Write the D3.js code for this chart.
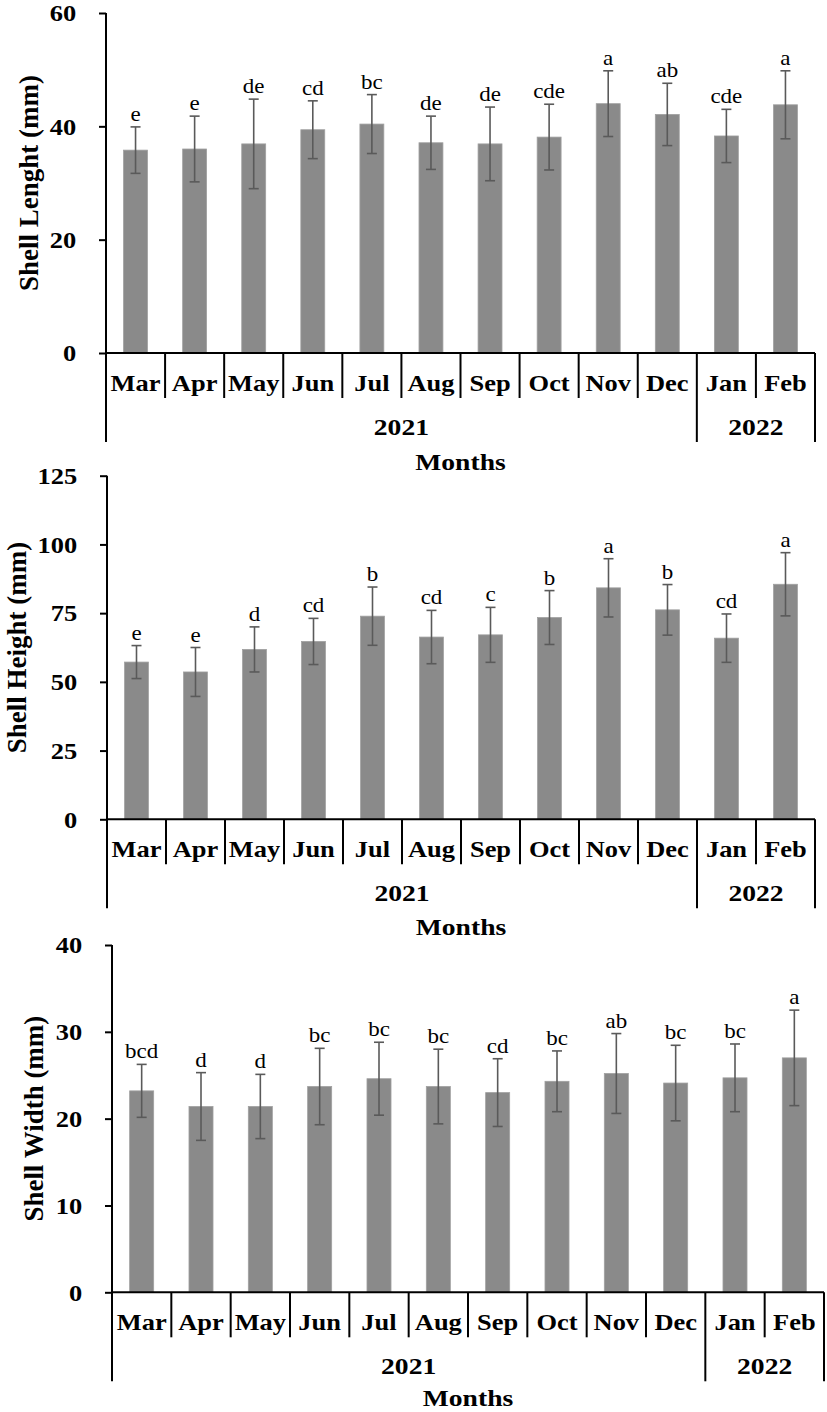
<!DOCTYPE html>
<html><head><meta charset="utf-8">
<script src="https://cdn.jsdelivr.net/npm/d3@7"></script>
<style>html,body{margin:0;padding:0;background:#fff}svg{display:block}</style>
</head><body>
<svg id="chart" width="827" height="1412"></svg>
<script>
// ---------- data ----------
const months = ["Mar","Apr","May","Jun","Jul","Aug","Sep","Oct","Nov","Dec","Jan","Feb"];
const yearGroups = [{year:"2021", from:"Mar", to:"Dec"}, {year:"2022", from:"Jan", to:"Feb"}];

const lengthMean    = [35.8, 36.0, 36.9, 39.4, 40.4, 37.1, 36.9, 38.1, 44.0, 42.1, 38.3, 43.8];
const lengthSD      = [4.1, 5.8, 7.9, 5.1, 5.2, 4.7, 6.5, 5.8, 5.8, 5.5, 4.7, 6.0];
const lengthLetters = ["e","e","de","cd","bc","de","de","cde","a","ab","cde","a"];
const lengthTicks   = [0, 20, 40, 60];

const heightMean    = [57.2, 53.6, 61.8, 64.7, 73.9, 66.3, 67.1, 73.4, 84.2, 76.2, 65.9, 85.5];
const heightSD      = [6.0, 8.9, 8.2, 8.4, 10.6, 9.7, 10.0, 9.8, 10.6, 9.2, 8.8, 11.5];
const heightLetters = ["e","e","d","cd","b","cd","c","b","a","b","cd","a"];
const heightTicks   = [0, 25, 50, 75, 100, 125];

const widthMean     = [23.2, 21.4, 21.4, 23.7, 24.6, 23.7, 23.0, 24.3, 25.2, 24.1, 24.7, 27.0];
const widthSD       = [3.05, 3.9, 3.7, 4.4, 4.2, 4.3, 3.9, 3.5, 4.6, 4.35, 3.9, 5.5];
const widthLetters  = ["bcd","d","d","bc","bc","bc","cd","bc","ab","bc","bc","a"];
const widthTicks    = [0, 10, 20, 30, 40];

// ---------- layout ----------
const panels = [
  {mean: lengthMean, sd: lengthSD, letters: lengthLetters, ticks: lengthTicks, title: "Shell Lenght (mm)",
   left: 106, right: 815, top: 13, zero: 353, titleOff: 78, monthsOff: 117},
  {mean: heightMean, sd: heightSD, letters: heightLetters, ticks: heightTicks, title: "Shell Height (mm)",
   left: 107, right: 815, top: 475.7, zero: 819.3, titleOff: 91, monthsOff: 116},
  {mean: widthMean, sd: widthSD, letters: widthLetters, ticks: widthTicks, title: "Shell Width (mm)",
   left: 112, right: 824, top: 945, zero: 1292.3, titleOff: 79, monthsOff: 113.5}
];

const FONT = "'Liberation Serif','Times New Roman',serif";
const SX = 1.15;       // horizontal stretch of the reference text
const svg = d3.select("#chart");

function stretchText(g, x, y, txt, opts) {
  const t = g.append("text")
    .attr("transform", `translate(${x},${y}) scale(${opts.sx || SX},1)` + (opts.rotate ? " rotate(-90)" : ""))
    .attr("text-anchor", opts.anchor || "middle")
    .attr("font-family", FONT)
    .attr("font-size", opts.size)
    .attr("font-weight", opts.bold ? "bold" : "normal")
    .attr("fill", "#000")
    .text(txt);
  if (opts.dy) t.attr("dy", opts.dy);
  return t;
}

panels.forEach(p => {
  const g = svg.append("g");
  const yMax = d3.max(p.ticks);
  const y = d3.scaleLinear().domain([0, yMax]).range([p.zero, p.top]);
  const x = d3.scaleBand().domain(months).range([p.left, p.right]).padding(0);
  const bw = x.bandwidth() * 0.405;
  const tickBottom = p.zero + 45;
  const longBottom = p.zero + 89;

  // bars
  g.selectAll("rect.bar").data(months).join("rect")
    .attr("class", "bar")
    .attr("x", m => x(m) + x.bandwidth() / 2 - bw / 2)
    .attr("width", bw)
    .attr("y", (m, i) => y(p.mean[i]))
    .attr("height", (m, i) => y(0) - y(p.mean[i]))
    .attr("fill", "#8a8a8a")
    .attr("stroke", "#a0a0a0")
    .attr("stroke-width", 0.8);

  // error bars
  const cap = 5;
  const eg = g.selectAll("g.err").data(months).join("g").attr("class", "err")
    .attr("stroke", "#5a5a5a").attr("stroke-width", 1.6);
  eg.append("line")
    .attr("x1", m => x(m) + x.bandwidth() / 2).attr("x2", m => x(m) + x.bandwidth() / 2)
    .attr("y1", (m, i) => y(p.mean[i] + p.sd[i])).attr("y2", (m, i) => y(p.mean[i] - p.sd[i]));
  eg.append("line")
    .attr("x1", m => x(m) + x.bandwidth() / 2 - cap).attr("x2", m => x(m) + x.bandwidth() / 2 + cap)
    .attr("y1", (m, i) => y(p.mean[i] + p.sd[i])).attr("y2", (m, i) => y(p.mean[i] + p.sd[i]));
  eg.append("line")
    .attr("x1", m => x(m) + x.bandwidth() / 2 - cap).attr("x2", m => x(m) + x.bandwidth() / 2 + cap)
    .attr("y1", (m, i) => y(p.mean[i] - p.sd[i])).attr("y2", (m, i) => y(p.mean[i] - p.sd[i]));

  // significance letters
  months.forEach((m, i) => {
    stretchText(g, x(m) + x.bandwidth() / 2, y(p.mean[i] + p.sd[i]) - 6, p.letters[i], {size: 20, sx: 1.15});
  });

  // y axis
  const ax = g.append("g").attr("transform", `translate(${p.left},0)`)
    .call(d3.axisLeft(y).tickValues(p.ticks).tickSize(7).tickSizeOuter(0).tickPadding(0).tickFormat(d3.format("d")));
  ax.select(".domain").remove();
  ax.selectAll(".tick line").attr("stroke", "#000").attr("stroke-width", 2);
  ax.selectAll(".tick text")
    .attr("x", -26).attr("dy", "0.34em")
    .attr("transform", `scale(${SX},1)`)
    .attr("font-family", FONT).attr("font-size", 23).attr("font-weight", "bold").attr("fill", "#000");

  const line = (x1, y1, x2, y2) => g.append("line")
    .attr("x1", x1).attr("y1", y1).attr("x2", x2).attr("y2", y2)
    .attr("stroke", "#000").attr("stroke-width", 2);

  // axis lines
  line(p.left, y(yMax), p.left, longBottom);
  line(p.left, p.zero, p.right, p.zero);
  line(p.right, p.zero, p.right, longBottom);
  months.slice(1).forEach(m => {
    const isYearStart = yearGroups.some(yg => yg.from === m);
    line(x(m), p.zero, x(m), isYearStart ? longBottom : tickBottom);
  });

  // month labels
  months.forEach(m => {
    stretchText(g, x(m) + x.bandwidth() / 2, p.zero + 38, m, {size: 23, bold: true});
  });

  // year labels
  yearGroups.forEach(yg => {
    const cx = (x(yg.from) + x(yg.to) + x.bandwidth()) / 2;
    stretchText(g, cx, p.zero + 82, yg.year, {size: 24, bold: true});
  });

  // axis titles
  stretchText(g, (p.left + p.right) / 2, p.zero + p.monthsOff, "Months", {size: 24, bold: true});
  stretchText(g, p.left - p.titleOff, (p.zero + y(yMax)) / 2, p.title, {size: 27, bold: true, rotate: true, dy: "0.35em", sx: 1.05});
});
</script>
</body></html>
